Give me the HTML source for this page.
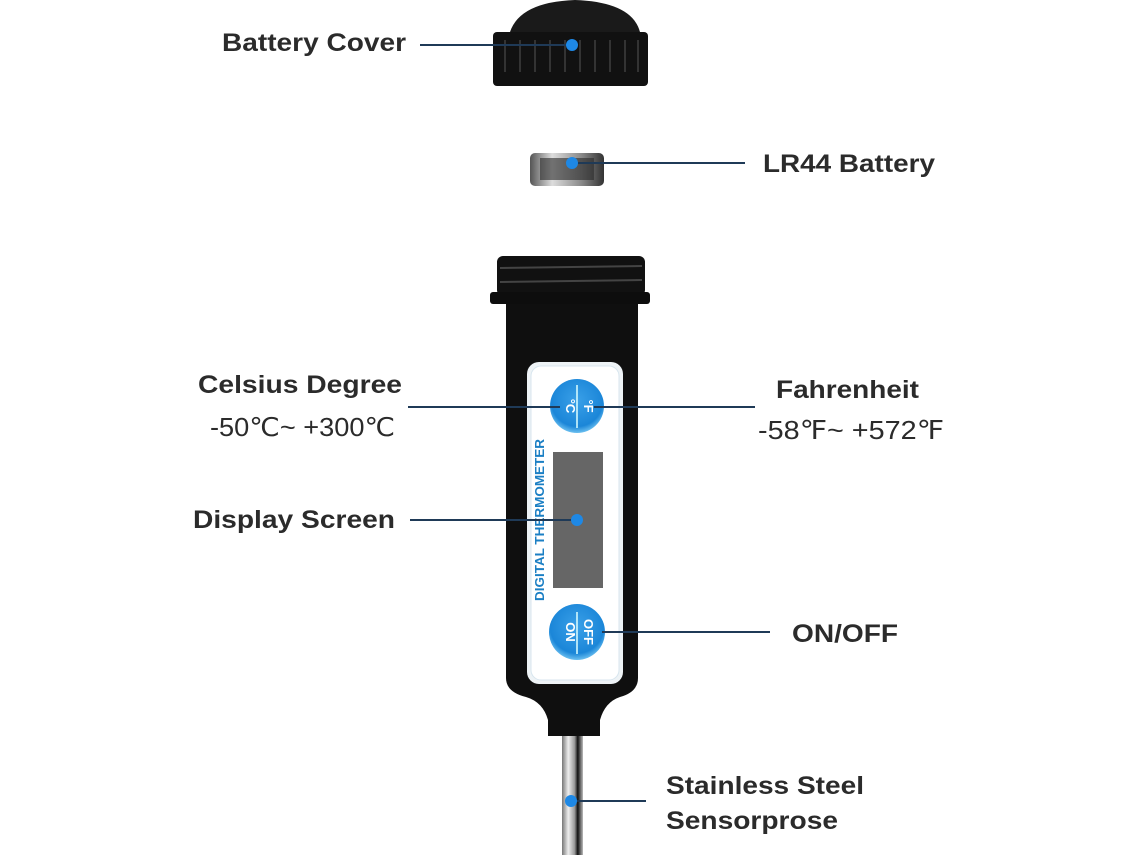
<!DOCTYPE html>
<html><head><meta charset="utf-8"><style>html,body{margin:0;padding:0;background:#fff}svg{display:block}</style></head>
<body>
<svg width="1140" height="855" viewBox="0 0 1140 855" xmlns="http://www.w3.org/2000/svg">
<defs>
<linearGradient id="steel" x1="0" x2="1"><stop offset="0" stop-color="#777"/><stop offset="0.3" stop-color="#eee"/><stop offset="0.6" stop-color="#999"/><stop offset="0.75" stop-color="#111"/><stop offset="1" stop-color="#bbb"/></linearGradient>
<linearGradient id="bat" x1="0" x2="1"><stop offset="0" stop-color="#555"/><stop offset="0.3" stop-color="#ddd"/><stop offset="0.7" stop-color="#888"/><stop offset="1" stop-color="#333"/></linearGradient>
<radialGradient id="btn" cx="0.5" cy="0.4" r="0.6"><stop offset="0" stop-color="#3aa0e8"/><stop offset="0.8" stop-color="#1b86d8"/><stop offset="1" stop-color="#6cc0f0"/></radialGradient>
</defs>
<!-- Battery cover -->
<path d="M510 32 Q520 2 575 0 Q632 2 640 32 Z" fill="#1a1a1a"/>
<rect x="493" y="32" width="155" height="54" rx="4" fill="#111"/>
<g stroke="#333" stroke-width="2">
<line x1="505" y1="40" x2="505" y2="72"/><line x1="520" y1="40" x2="520" y2="72"/><line x1="535" y1="40" x2="535" y2="72"/><line x1="550" y1="40" x2="550" y2="72"/><line x1="565" y1="40" x2="565" y2="72"/><line x1="580" y1="40" x2="580" y2="72"/><line x1="595" y1="40" x2="595" y2="72"/><line x1="610" y1="40" x2="610" y2="72"/><line x1="625" y1="40" x2="625" y2="72"/><line x1="638" y1="40" x2="638" y2="72"/>
</g>
<!-- Battery -->
<rect x="530" y="153" width="74" height="33" rx="5" fill="url(#bat)"/>
<rect x="540" y="158" width="54" height="22" fill="#2a2a2a" opacity="0.6"/>
<!-- Thermometer -->
<rect x="497" y="256" width="148" height="40" rx="6" fill="#111"/>
<g stroke="#444" stroke-width="2"><line x1="500" y1="268" x2="642" y2="266"/><line x1="500" y1="282" x2="642" y2="280"/></g>
<rect x="490" y="292" width="160" height="12" rx="3" fill="#0d0d0d"/>
<path d="M506 304 H638 V678 Q638 692 620 697 Q605 702 600 720 V736 H548 V720 Q543 702 526 697 Q506 692 506 678 Z" fill="#0f0f0f"/>
<rect x="527" y="362" width="96" height="322" rx="12" fill="#eef3f6"/>
<rect x="531" y="366" width="88" height="314" rx="10" fill="#fff" stroke="#d8e6ef"/>
<circle cx="577" cy="406" r="27" fill="url(#btn)"/>
<line x1="577" y1="385" x2="577" y2="428" stroke="#dff" stroke-width="1.5"/>
<text x="0" y="0" transform="translate(566,406) rotate(90)" font-family="Liberation Sans,sans-serif" font-weight="bold" font-size="13" fill="#fff" text-anchor="middle">°C</text>
<text x="0" y="0" transform="translate(584,406) rotate(90)" font-family="Liberation Sans,sans-serif" font-weight="bold" font-size="13" fill="#fff" text-anchor="middle">°F</text>
<rect x="553" y="452" width="50" height="136" fill="#666"/>
<text transform="translate(544,520) rotate(-90)" font-family="Liberation Sans,sans-serif" font-weight="bold" font-size="12.5" fill="#1b7fc4" text-anchor="middle" textLength="162" lengthAdjust="spacingAndGlyphs">DIGITAL  THERMOMETER</text>
<circle cx="577" cy="632" r="28" fill="url(#btn)"/>
<line x1="577" y1="612" x2="577" y2="654" stroke="#dff" stroke-width="1.5"/>
<text transform="translate(566,632) rotate(90)" font-family="Liberation Sans,sans-serif" font-weight="bold" font-size="13" fill="#fff" text-anchor="middle">ON</text>
<text transform="translate(584,632) rotate(90)" font-family="Liberation Sans,sans-serif" font-weight="bold" font-size="13" fill="#fff" text-anchor="middle">OFF</text>
<rect x="562" y="736" width="21" height="119" fill="url(#steel)"/>
<!-- leader lines -->
<g stroke="#1f3a57" stroke-width="2">
<line x1="420" y1="45" x2="572" y2="45"/>
<line x1="572" y1="163" x2="745" y2="163"/>
<line x1="408" y1="407" x2="560" y2="407"/>
<line x1="594" y1="407" x2="755" y2="407"/>
<line x1="410" y1="520" x2="577" y2="520"/>
<line x1="602" y1="632" x2="770" y2="632"/>
<line x1="572" y1="801" x2="646" y2="801"/>
</g>
<g fill="#1e88e5"><circle cx="572" cy="45" r="6"/><circle cx="572" cy="163" r="6"/><circle cx="577" cy="520" r="6"/><circle cx="571" cy="801" r="6"/></g>
<!-- labels -->
<g font-family="Liberation Sans,sans-serif" font-weight="bold" font-size="25" fill="#2b2b2b">
<text x="222" y="51" textLength="184" lengthAdjust="spacingAndGlyphs">Battery Cover</text>
<text x="763" y="172" textLength="172" lengthAdjust="spacingAndGlyphs">LR44 Battery</text>
<text x="198" y="393" textLength="204" lengthAdjust="spacingAndGlyphs">Celsius Degree</text>
<text x="776" y="398" textLength="143" lengthAdjust="spacingAndGlyphs">Fahrenheit</text>
<text x="193" y="528" textLength="202" lengthAdjust="spacingAndGlyphs">Display Screen</text>
<text x="792" y="642" textLength="106" lengthAdjust="spacingAndGlyphs">ON/OFF</text>
<text x="666" y="794" textLength="198" lengthAdjust="spacingAndGlyphs">Stainless Steel</text>
<text x="666" y="829" textLength="172" lengthAdjust="spacingAndGlyphs">Sensorprose</text>
</g>
<g font-family="Liberation Sans,'DejaVu Sans',sans-serif" font-size="26" fill="#2b2b2b">
<text x="210" y="436" textLength="185" lengthAdjust="spacingAndGlyphs">-50℃~ +300℃</text>
<text x="758" y="439" textLength="186" lengthAdjust="spacingAndGlyphs">-58℉~ +572℉</text>
</g>
</svg>
</body></html>
